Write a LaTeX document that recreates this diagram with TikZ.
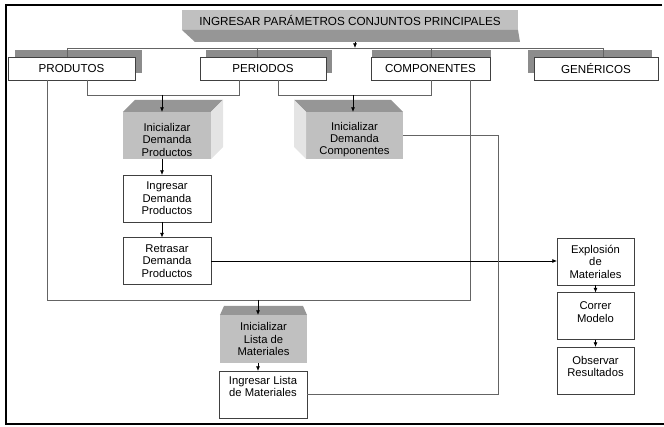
\documentclass[tikz,border=0pt]{standalone}
\usepackage{fontspec}
\setmainfont{Liberation Sans}
\usetikzlibrary{arrows.meta,shadows}

\definecolor{frontgray}{RGB}{192,192,192}
\definecolor{topgray}{RGB}{150,150,150}
\definecolor{sidegray}{RGB}{228,228,228}
\definecolor{bargray}{RGB}{140,140,140}
\definecolor{linegray}{RGB}{100,100,100}

\begin{document}
\begin{tikzpicture}[
    x=0.03cm, y=-0.03cm,
    font=\fontsize{9.6}{10.6}\selectfont,
    head/.style={rectangle, fill=frontgray, minimum width=10.08cm, minimum height=0.6cm, inner sep=0pt, outer sep=0pt, font=\fontsize{10}{11}\selectfont},
    param/.style={rectangle, draw=black!75, line width=0.6pt, fill=white, minimum height=0.69cm, inner sep=0pt, outer sep=0pt,
        font=\fontsize{9.9}{11}\selectfont,
        general shadow={shadow xshift=#1*0.03cm, shadow yshift=0.21cm, fill=bargray}},
    param/.default=7,
    cube/.style={rectangle, fill=frontgray, minimum width=2.64cm, minimum height=1.41cm, align=center, inner sep=0pt, outer sep=0pt},
    task/.style={rectangle, draw=black!75, line width=0.7pt, fill=white, minimum width=2.64cm, minimum height=1.41cm, align=center, inner sep=0pt, outer sep=0pt},
    link/.style={draw=linegray, line width=0.6pt},
    arrow/.style={draw=black, line width=0.6pt, -{Latex[length=4pt,width=3.5pt]}}
]
\useasboundingbox (0,0) rectangle (664,427);

% Frame
\draw[line width=1.7pt] (662,5) -- (6,5) -- (6,424) -- (664,424);

% Main parameters
\node[head] (head) at (350,20) {INGRESAR PARÁMETROS CONJUNTOS PRINCIPALES};
\fill[topgray] (head.south west) -- (head.south east) -- ++(2,12) -- ([shift={(13,12)}]head.south west) -- cycle;

\node[param=7, minimum width=3.81cm] (prod) at (71.5,68.5) {PRODUTOS};
\node[param=6, minimum width=3.78cm] (peri) at (263,68.5) {PERIODOS};
\node[param=1, minimum width=3.57cm] (comp) at (430.5,68.5) {COMPONENTES};
\node[param=-6, minimum width=3.72cm] (gene) at (596,68.5) {GENÉRICOS};

% Initialisation blocks
\node[cube] (iniDP) at (167,135.5) {\rule{0pt}{14pt}Inicializar\\Demanda\\Productos};
\fill[topgray] (iniDP.north west) -- (iniDP.north east) -- ++(12,-12) -- ([shift={(12,-12)}]iniDP.north west) -- cycle;
\fill[sidegray] (iniDP.north east) -- ++(12,-12) -- ([shift={(12,-12)}]iniDP.south east) -- (iniDP.south east) -- cycle;

\node[cube, minimum width=2.91cm] (iniDC) at (354.5,135.5) {\rule{0pt}{14pt}Inicializar\\Demanda\\Componentes};
\fill[topgray] (iniDC.north east) -- (iniDC.north west) -- ++(-12,-12) -- ([shift={(-12,-12)}]iniDC.north east) -- cycle;
\fill[sidegray] (iniDC.north west) -- ++(-12,-12) -- ([shift={(-12,-12)}]iniDC.south west) -- (iniDC.south west) -- cycle;

\node[cube, minimum width=2.61cm, minimum height=1.44cm] (iniLM) at (263.5,339) {Inicializar\\Lista de\\Materiales};
\fill[topgray] (iniLM.north west) -- (iniLM.north east) -- ++(-4,-9) -- ([shift={(4,-9)}]iniLM.north west) -- cycle;

% Tasks
\node[task] (ingDP) at (167,198.5) {Ingresar\\Demanda\\Productos};
\node[task] (retDP) at (167,261) {Retrasar\\Demanda\\Productos};
\node[task, minimum width=2.64cm] (ingLM) at (263,394.5) {Ingresar Lista\\de Materiales\\\strut};

\node[task, minimum width=2.31cm] (expl) at (595.5,261.5) {Explosión\\de\\Materiales};
\node[task, minimum width=2.31cm] (corr) at (595.5,316) {Correr\\Modelo\\[-4pt]\mbox{}};
\node[task, minimum width=2.31cm] (obse) at (595.5,370.5) {Observar\\Resultados\\[-4pt]\mbox{}};

% Bus from main parameters
\coordinate (b0) at (355,48);
\coordinate (b1) at (67,48);
\coordinate (b2) at (257,48);
\coordinate (b3) at (431,48);
\coordinate (b4) at (603,48);
\draw[link] (b1) -- (b4);
\foreach \b/\n in {b1/prod, b2/peri, b3/comp, b4/gene}
    \draw[link] (\b) -- (\b |- \n.north);
\draw[arrow] (head.south -| b0) ++(0,12) -- (b0);

% Joins below the parameters
\coordinate (s1) at (87,95);
\coordinate (s2) at (239,95);
\coordinate (j1) at (162,95);
\draw[link] (s1 |- prod.south) -- (s1) -- (s2) -- (s2 |- peri.south);
\draw[arrow] (j1) -- (j1 |- iniDP.north);

\coordinate (s3) at (278,95);
\coordinate (s4) at (431,95);
\coordinate (j2) at (353,95);
\draw[link] (s3 |- peri.south) -- (s3) -- (s4) -- (s4 |- comp.south);
\draw[arrow] (j2) -- (j2 |- iniDC.north);

\coordinate (s5) at (47,300);
\coordinate (s6) at (470,300);
\coordinate (j3) at (258,300);
\draw[link] (s5 |- prod.south) -- (s5) -- (s6) -- (s6 |- comp.south);
\draw[arrow] (j3) -- (j3 |- iniLM.north);

% Flow
\draw[arrow] (iniDP.south -| j1) -- (ingDP.north -| j1);
\draw[arrow] (ingDP.south -| j1) -- (retDP.north -| j1);
\draw[arrow] (iniLM.south -| j3) -- (ingLM.north -| j3);
\draw[arrow] (retDP.east) -- (retDP.east -| expl.west);
\draw[arrow] (expl) -- (corr);
\draw[arrow] (corr) -- (obse);

\coordinate (s7) at (498,0);
\draw[link] (iniDC.east) -- (iniDC.east -| s7) -- (s7 |- ingLM.east) -- (ingLM.east);

\end{tikzpicture}
\end{document}
